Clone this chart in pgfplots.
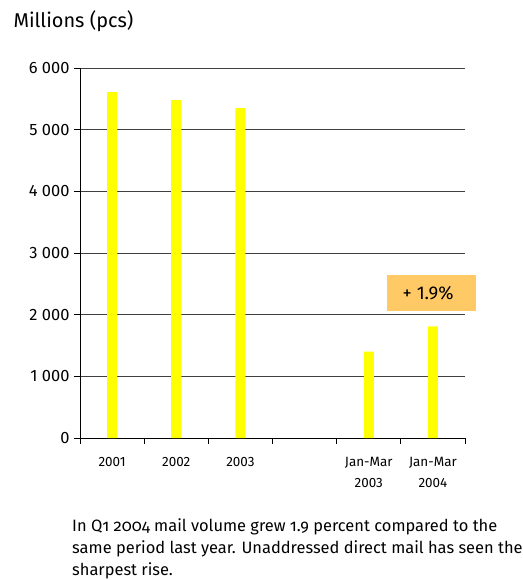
\documentclass[border=0pt]{standalone}
\usepackage{pgfplots}
\pgfplotsset{compat=1.18}
\usepackage{fontspec}
\setmainfont{Fira Sans}
\newfontfamily\capfont[Numbers=OldStyle]{Fira Sans}
\definecolor{baryellow}{HTML}{FFFF00}
\definecolor{boxorange}{HTML}{FFC966}
\definecolor{gridgray}{HTML}{404040}
\begin{document}
\begin{tikzpicture}[x=1bp,y=1bp]
\path (-80,-142) rectangle (443,438);
\begin{axis}[
  at={(0,0)}, anchor=south west,
  scale only axis,
  width=385bp, height=370bp,
  xmin=-0.5, xmax=5.5,
  ymin=0, ymax=6000,
  axis x line*=bottom,
  axis y line*=left,
  clip=false,
  ybar, bar width=10bp,
  xtick={0,1,2,3,4,5},
  xticklabels={2001,2002,2003,{},{Jan-Mar\\2003},{Jan-Mar\\2004}},
  major x tick style={draw=none},
  minor xtick={-0.5,0.5,1.5,2.5,3.5,4.5,5.5},
  minor tick length=6bp,
  major tick length=6bp,
  tick align=outside,
  xticklabel style={align=center, font=\fontsize{13.5}{20.5}\selectfont, yshift=-10bp},
  ytick={0,1000,2000,3000,4000,5000,6000},
  yticklabels={0,1 000,2 000,3 000,4 000,5 000,6 000},
  yticklabel style={font=\fontsize{16.5}{18}\selectfont, xshift=-1bp},
  ymajorgrids,
  grid style={gridgray, line width=0.9bp},
  axis line style={black, line width=0.9bp},
  tick style={black, line width=0.9bp},
  /pgf/number format/assume math mode=true,
]
\addplot[fill=baryellow, draw=none] coordinates {(0,5610) (1,5480) (2,5350) (4,1400) (5,1810)};
\node[fill=boxorange, minimum width=89bp, minimum height=36bp, inner sep=0pt,
  font=\fontsize{18.5}{20}\selectfont] at (axis cs:4.98,2351) {\hspace*{-7bp}+ 1.9\%};
\end{axis}
\node[anchor=base west, font=\fontsize{20}{22}\selectfont] at (-70,410) {Millions (pcs)};
\node[anchor=north west, align=left, inner sep=0pt, font=\capfont\fontsize{16.5}{22.5}\selectfont] at (-8,-80)
  {In Q1 2004 mail volume grew 1.9 percent compared to the\\same period last year. Unaddressed direct mail has seen the\\sharpest rise.};
\end{tikzpicture}
\end{document}
